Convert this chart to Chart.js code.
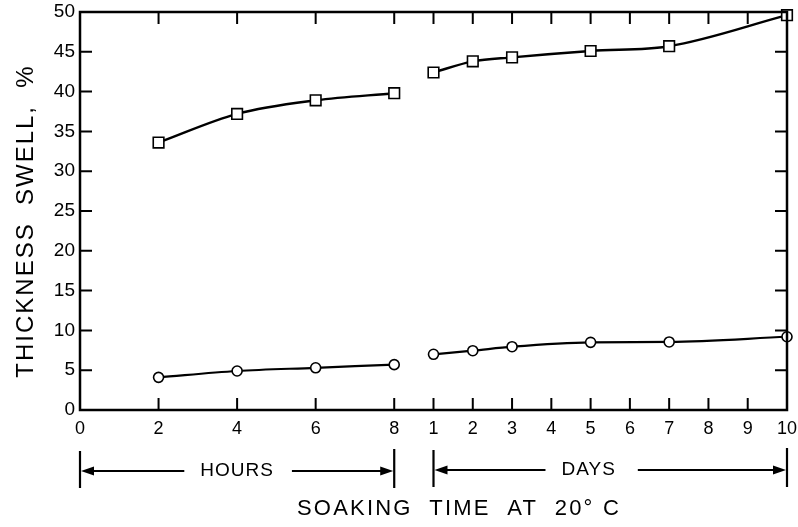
<!DOCTYPE html>
<html>
<head>
<meta charset="utf-8">
<script src="https://cdn.jsdelivr.net/npm/chart.js@4"></script>
<style>
html,body{margin:0;padding:0;background:#fff;}
#wrap{width:798px;height:527px;}
</style>
</head>
<body>
<div id="wrap"><canvas id="c" width="798" height="527"></canvas></div>
<script>
// ---- data ----
const hoursX = [2, 4, 6, 8];
const daysX = [1, 2, 3, 5, 7, 10];
const squaresHours = [33.6, 37.2, 38.9, 39.8];
const squaresDays = [42.4, 43.8, 44.3, 45.1, 45.7, 49.6];
const circlesHours = [4.1, 4.9, 5.3, 5.7];
const circlesDays = [7.0, 7.45, 7.95, 8.5, 8.55, 9.2];
const xTickPos = [0, 2, 4, 6, 8, 9, 10, 11, 12, 13, 14, 15, 16, 17, 18];
const xTickLabels = ['0', '2', '4', '6', '8', '1', '2', '3', '4', '5', '6', '7', '8', '9', '10'];
const yTicks = [0, 5, 10, 15, 20, 25, 30, 35, 40, 45, 50];
const yTitle = 'THICKNESS  SWELL,  %';
const xTitle = 'SOAKING  TIME  AT  20° C';
const DAY_OFFSET = 8; // day d sits at axis position 8 + d

const FONT = '"Liberation Sans", Arial, sans-serif';
const hp = (xs, ys) => xs.map((x, i) => ({x: x, y: ys[i]}));
const dp = (xs, ys) => xs.map((x, i) => ({x: x + DAY_OFFSET, y: ys[i]}));

const sqStyle = {borderColor:'#000', backgroundColor:'#fff', pointBackgroundColor:'#fff', pointBorderColor:'#000',
  pointStyle:'rect', pointRadius:7.5, pointBorderWidth:1.6, borderWidth:2.4, cubicInterpolationMode:'monotone', clip:false};
const ciStyle = {borderColor:'#000', backgroundColor:'#fff', pointBackgroundColor:'#fff', pointBorderColor:'#000',
  pointStyle:'circle', pointRadius:5, pointBorderWidth:1.6, borderWidth:2.2, cubicInterpolationMode:'monotone', clip:false};

const decor = {
  id: 'decor',
  afterDatasetsDraw(chart) {
    const ctx = chart.ctx, a = chart.chartArea;
    const xs = chart.scales.x, ys = chart.scales.y;
    ctx.save();
    ctx.strokeStyle = '#000';
    ctx.lineWidth = 2.5;
    ctx.strokeRect(a.left, a.top, a.right - a.left, a.bottom - a.top);
    ctx.lineWidth = 2;
    const tl = 12;
    ctx.beginPath();
    xTickPos.forEach(v => {
      if (v === xs.min || v === xs.max) return;
      const px = xs.getPixelForValue(v);
      ctx.moveTo(px, a.bottom); ctx.lineTo(px, a.bottom - tl);
      ctx.moveTo(px, a.top); ctx.lineTo(px, a.top + tl);
    });
    yTicks.forEach(v => {
      if (v === ys.min || v === ys.max) return;
      const py = ys.getPixelForValue(v);
      ctx.moveTo(a.left, py); ctx.lineTo(a.left + tl, py);
      ctx.moveTo(a.right, py); ctx.lineTo(a.right - tl, py);
    });
    ctx.stroke();
    ctx.restore();
  },
  afterDraw(chart) {
    const ctx = chart.ctx;
    const xs = chart.scales.x;
    ctx.save();
    ctx.strokeStyle = '#000'; ctx.fillStyle = '#000';
    function bracket(v0, v1, vText, label, yMid, gapL, gapR) {
      const x0 = xs.getPixelForValue(v0), x1 = xs.getPixelForValue(v1);
      const cx = xs.getPixelForValue(vText);
      ctx.font = '19px ' + FONT;
      ctx.letterSpacing = '1px';
      ctx.textAlign = 'center'; ctx.textBaseline = 'middle';
      const w = ctx.measureText(label).width;
      ctx.fillText(label, cx, yMid);
      ctx.lineWidth = 2.2;
      ctx.beginPath();
      ctx.moveTo(x0, yMid - 20); ctx.lineTo(x0, yMid + 17);
      ctx.moveTo(x1, yMid - 22); ctx.lineTo(x1, yMid + 17);
      ctx.moveTo(x0 + 8, yMid); ctx.lineTo(cx - w / 2 - gapL, yMid);
      ctx.moveTo(cx + w / 2 + gapR, yMid); ctx.lineTo(x1 - 8, yMid);
      ctx.stroke();
      ctx.beginPath();
      ctx.moveTo(x0 + 1, yMid); ctx.lineTo(x0 + 14, yMid - 4.5); ctx.lineTo(x0 + 14, yMid + 4.5); ctx.closePath();
      ctx.moveTo(x1 - 1, yMid); ctx.lineTo(x1 - 14, yMid - 4.5); ctx.lineTo(x1 - 14, yMid + 4.5); ctx.closePath();
      ctx.fill();
    }
    bracket(0, 8, 4, 'HOURS', 471, 16, 18);
    bracket(1 + DAY_OFFSET, 10 + DAY_OFFSET, 4.95 + DAY_OFFSET, 'DAYS', 470, 16, 22);
    // x axis title
    ctx.font = '22px ' + FONT;
    ctx.letterSpacing = '2.2px';
    ctx.textAlign = 'center'; ctx.textBaseline = 'middle';
    ctx.fillText(xTitle, 459, 509);
    // y axis title
    ctx.translate(26, 221);
    ctx.rotate(-Math.PI / 2);
    ctx.font = '24px ' + FONT;
    ctx.letterSpacing = '2px';
    ctx.fillText(yTitle, 0, 0);
    ctx.restore();
  }
};

new Chart(document.getElementById('c'), {
  type: 'line',
  data: {
    datasets: [
      Object.assign({label:'squares (hours)', data: hp(hoursX, squaresHours)}, sqStyle),
      Object.assign({label:'squares (days)', data: dp(daysX, squaresDays)}, sqStyle),
      Object.assign({label:'circles (hours)', data: hp(hoursX, circlesHours)}, ciStyle),
      Object.assign({label:'circles (days)', data: dp(daysX, circlesDays)}, ciStyle)
    ]
  },
  options: {
    responsive: false,
    animation: false,
    layout: {padding: {top: 12, right: 11, left: 44, bottom: 85}},
    plugins: {legend: {display: false}, tooltip: {enabled: false}},
    scales: {
      x: {
        type: 'linear', min: 0, max: 18,
        afterBuildTicks(s) { s.ticks = xTickPos.map(v => ({value: v})); },
        afterFit(s) { s.height = 32; s.paddingLeft = 0; s.paddingRight = 0; },
        ticks: {
          autoSkip: false, maxRotation: 0, padding: 8, color: '#000',
          font: {family: FONT, size: 18},
          callback: (v) => { const i = xTickPos.indexOf(v); return i >= 0 ? xTickLabels[i] : ''; }
        },
        grid: {display: false, drawTicks: false},
        border: {display: false}
      },
      y: {
        min: 0, max: 50,
        afterBuildTicks(s) { s.ticks = yTicks.map(v => ({value: v})); },
        afterFit(s) { s.width = 36; s.paddingTop = 0; s.paddingBottom = 0; },
        ticks: {autoSkip: false, padding: 5, color: '#000', font: {family: FONT, size: 19}},
        grid: {display: false, drawTicks: false},
        border: {display: false}
      }
    }
  },
  plugins: [decor]
});
</script>
</body>
</html>
